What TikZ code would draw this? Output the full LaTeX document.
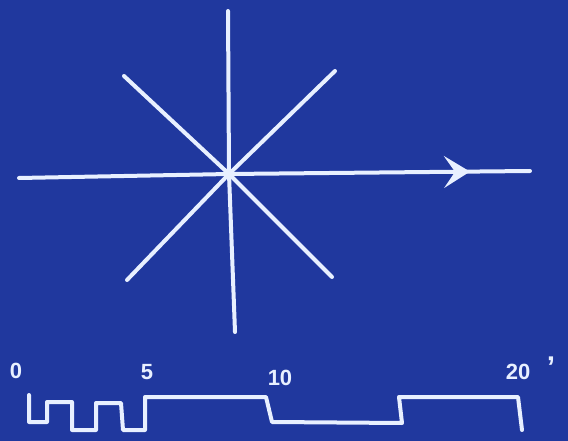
\documentclass[tikz,border=0pt]{standalone}
\usetikzlibrary{arrows.meta}
\usepackage{fontspec}
\setmainfont{Liberation Sans}
\definecolor{bp}{RGB}{32,56,158}
\definecolor{chalk}{RGB}{232,240,255}
\begin{document}
\begin{tikzpicture}[x=1pt,y=-1pt,
  stroke/.style={draw=chalk,line width=4pt,line cap=round,line join=round},
  lbl/.style={text=chalk,font=\bfseries\fontsize{22}{22}\selectfont,inner sep=0pt}]
\fill[bp] (0,0) rectangle (568,441);
\useasboundingbox (0,0) rectangle (568,441);
% star
\coordinate (c) at (229,174);
\coordinate (vt) at (228,11);
\coordinate (vb) at (235,332);
\coordinate (hl) at (19,178);
\coordinate (hr) at (530,171);
\coordinate (d1a) at (124,76);
\coordinate (d1b) at (332,277);
\coordinate (d2a) at (335,71);
\coordinate (d2b) at (127,280);
\draw[stroke] (vt) -- (c) -- (vb);
\draw[stroke] (hl) -- (c) -- (hr);
\draw[stroke] (d1a) -- (c) -- (d1b);
\draw[stroke] (d2a) -- (c) -- (d2b);
\coordinate (ah0) at (440,172);
\coordinate (ah1) at (470,171.6);
\draw[draw=chalk,line width=2pt,-{Stealth[length=26pt,width=32pt,inset=11pt,fill=chalk]}] (ah0) -- (ah1);
% scale labels
\node[lbl] (l0) at (16,371) {0};
\node[lbl] (l5) at (147,372) {5};
\node[lbl] (l10) at (280,378) {10};
\node[lbl] (l20) at (518,372) {20};
\node[lbl,font=\bfseries\fontsize{30}{30}\selectfont] (lp) at (551,367) {'};
% scale bar
\draw[stroke] (29,395) -- (29,422) -- (47,422) -- (47,402) -- (72,402) -- (72,430)
  -- (96,430) -- (96,403) -- (121,403) -- (123,430) -- (145,430) -- (145,397)
  -- (266,397) -- (272,422) -- (402,423) -- (399,397) -- (518,397) -- (522,430);
\end{tikzpicture}
\end{document}
